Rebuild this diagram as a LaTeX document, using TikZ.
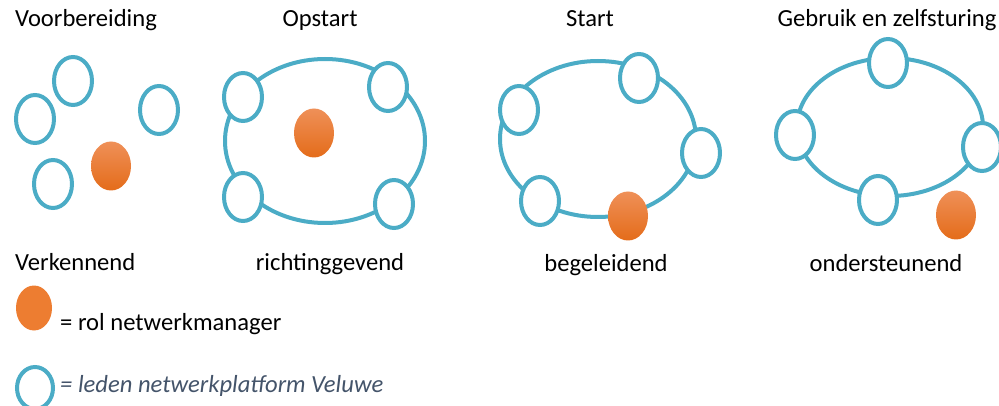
\documentclass[tikz,border=0pt]{standalone}
\usepackage{fontspec}
\setmainfont{Carlito}
\usepackage{xcolor}
\usepackage{tikz}
\usetikzlibrary{shapes.geometric}
\definecolor{lidblauw}{HTML}{4BACC6}
\definecolor{roloranje}{HTML}{ED7D31}
\definecolor{oranjelicht}{HTML}{EF9058}
\definecolor{oranjedonker}{HTML}{E46C1A}
\definecolor{legendagrijs}{HTML}{44546A}

\begin{document}
\begin{tikzpicture}[x=1pt,y=-1pt,
    netwerk/.style={ellipse,draw=lidblauw,line width=4pt,inner sep=0pt},
    lid/.style={ellipse,draw=lidblauw,line width=4pt,fill=white,inner sep=0pt,
        minimum width=38pt,minimum height=48pt},
    manager/.style={ellipse,inner sep=0pt,minimum width=40pt,minimum height=49pt,
        top color=oranjelicht,bottom color=oranjedonker},
    tekst/.style={anchor=base,inner sep=0pt,font=\fontsize{24.6}{29}\selectfont}]
    \useasboundingbox (0,0) rectangle (999,406);
    % fasen
    \node[tekst] (t1) at (86,27) {Voorbereiding};
    \node[tekst] (t2) at (320,27) {Opstart};
    \node[tekst] (t3) at (590,27) {Start};
    \node[tekst] (t4) at (887,27) {Gebruik en zelfsturing};
    % netwerken
    \node[netwerk,minimum width=200pt,minimum height=164pt] (n2) at (325,141) {};
    \node[netwerk,minimum width=196pt,minimum height=156pt] (n3) at (598,139) {};
    \node[netwerk,minimum width=186pt,minimum height=138pt] (n4) at (890,127) {};
    % leden
    \node[lid] (v1) at (73,81) {};
    \node[lid] (v2) at (35,119) {};
    \node[lid] (v3) at (159,110) {};
    \node[lid] (v4) at (53,184) {};
    \node[lid] (o1) at (243,97) {};
    \node[lid] (o2) at (388,87) {};
    \node[lid] (o3) at (243,197) {};
    \node[lid] (o4) at (394,204) {};
    \node[lid] (s1) at (519,110) {};
    \node[lid] (s2) at (639,78) {};
    \node[lid] (s3) at (701,153) {};
    \node[lid] (s4) at (540,201) {};
    \node[lid] (g1) at (888,63) {};
    \node[lid] (g2) at (795,135) {};
    \node[lid] (g3) at (982,147) {};
    \node[lid] (g4) at (878,200) {};
    % netwerkmanager
    \node[manager] (m1) at (111,166) {};
    \node[manager] (m2) at (314,133) {};
    \node[manager] (m3) at (628,216) {};
    \node[manager] (m4) at (956,215) {};
    % rollen
    \node[tekst,anchor=base west] (r1) at (15,271) {Verkennend};
    \node[tekst] (r2) at (330,271) {richtinggevend};
    \node[tekst] (r3) at (606,272) {begeleidend};
    \node[tekst] (r4) at (886,272) {ondersteunend};
    % legenda
    \node[ellipse,inner sep=0pt,minimum width=36pt,minimum height=45pt,fill=roloranje] (lm) at (34,308) {};
    \node[tekst,anchor=base west] (lmt) at (60,330) {= rol netwerkmanager};
    \node[lid,minimum width=36pt,minimum height=42pt] (ll) at (35,388) {};
    \node[tekst,anchor=base west,text=legendagrijs,font=\fontsize{24.6}{29}\selectfont\itshape] (llt) at (60,392) {= leden netwerkplatform Veluwe};
\end{tikzpicture}
\end{document}
